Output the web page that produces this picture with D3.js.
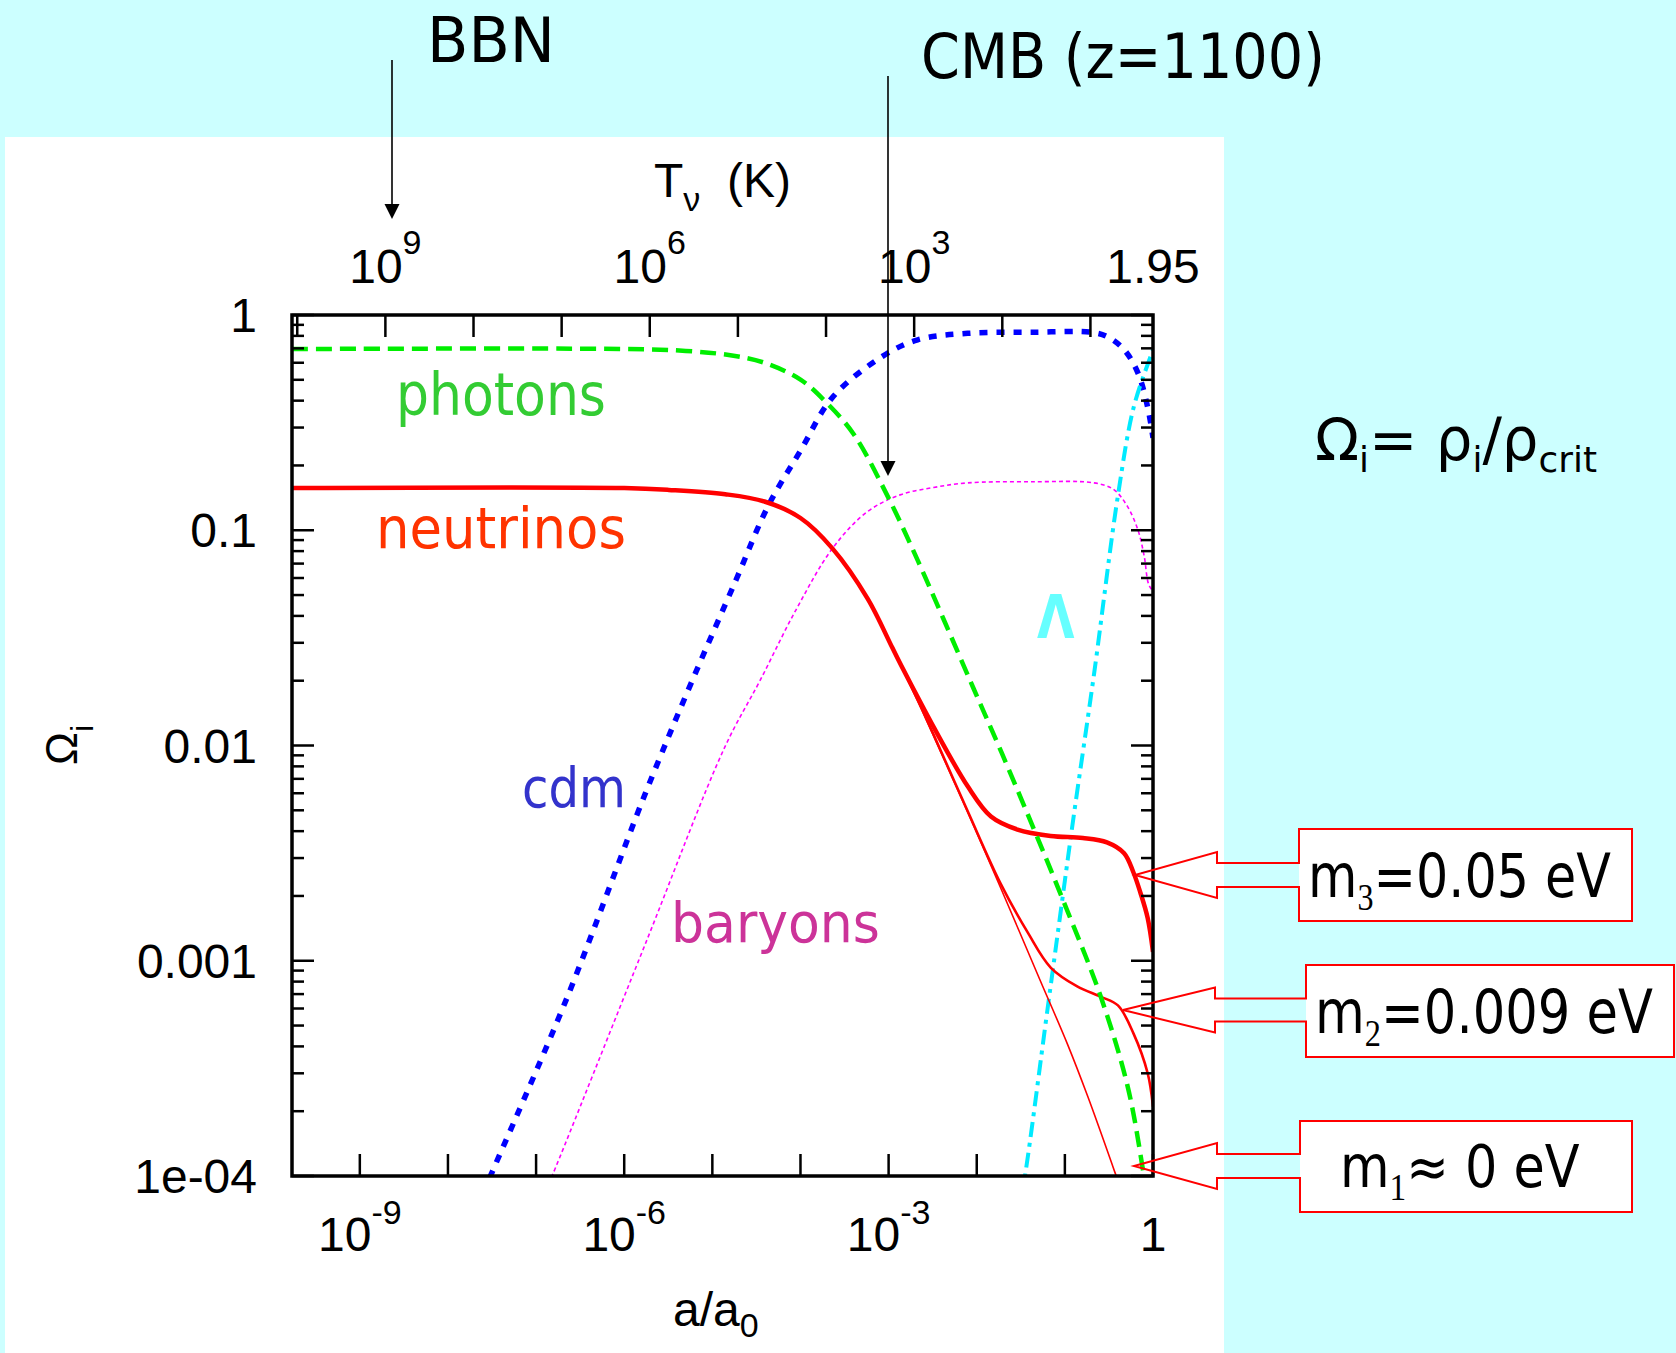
<!DOCTYPE html>
<html><head><meta charset="utf-8">
<script src="https://cdn.jsdelivr.net/npm/d3@7"></script>
<style>
html,body{margin:0;padding:0;background:#ccffff;}
svg{display:block;}
</style></head>
<body>
<svg id="chart" width="1676" height="1353"></svg>
<script>
// ---------------- data ----------------
const xDomain = [1.7e-10, 1];              // a/a0
const yDomain = [1e-4, 1];                 // Omega_i
const yTickValues = [1, 0.1, 0.01, 0.001, 1e-4];
const yTickLabels = ["1", "0.1", "0.01", "0.001", "1e-04"];
const xDecadeExponents = [-9, -8, -7, -6, -5, -4, -3, -2, -1, 0];
const xLabelExponents = [-9, -6, -3, 0];
const tNuToday = 1.95;                     // K at a/a0 = 1
const tNuTickValues = [1e10, 1e9, 1e8, 1e7, 1e6, 1e5, 1e4, 1e3, 1e2, 1e1];
const tNuLabelValues = [1e9, 1e6, 1e3, 1.95];
const tNuLabelExponents = [9, 6, 3, null];

const photonsA = [1.7e-10, 1e-6, 5e-6, 1.6e-5, 3.9e-5, 1e-4, 1.9e-4, 4e-4, 1e-3, 2.14e-3, 4.17e-3, 9.1e-3, 0.019, 0.0447, 0.098, 0.257, 0.513, 0.76, 1];
const photonsOmega = [0.695, 0.695, 0.681, 0.650, 0.600, 0.501, 0.398, 0.280, 0.141, 0.0724, 0.0389, 0.0186, 0.00933, 0.00407, 0.00186, 0.000676, 0.000263, 0.00011, 0.00005];

const nuM3A = [1.7e-10, 1e-6, 3.2e-6, 1.4e-5, 3.9e-5, 1e-4, 2.3e-4, 5.8e-4, 1.1e-3, 1.4e-3, 2.1e-3, 3.2e-3, 7.9e-3, 0.0145, 0.029, 0.069, 0.16, 0.30, 0.47, 0.60, 0.72, 0.87, 1];
const nuM3Omega = [0.157, 0.157, 0.154, 0.147, 0.136, 0.114, 0.0824, 0.048, 0.0285, 0.0234, 0.0170, 0.0123, 0.00646, 0.00468, 0.00407, 0.0038, 0.00372, 0.00355, 0.00316, 0.00257, 0.00207, 0.00158, 0.0011];

const nuM2A = [1.7e-10, 1e-6, 3.2e-6, 1.4e-5, 3.9e-5, 1e-4, 2.3e-4, 5.8e-4, 1.1e-3, 1.4e-3, 2.1e-3, 3.2e-3, 7.9e-3, 0.0186, 0.038, 0.069, 0.138, 0.257, 0.40, 0.60, 0.87, 1];
const nuM2Omega = [0.157, 0.157, 0.154, 0.147, 0.136, 0.114, 0.0824, 0.048, 0.0285, 0.0234, 0.0165, 0.01135, 0.00495, 0.00229, 0.00135, 0.00093, 0.00076, 0.00068, 0.00062, 0.00046, 0.0003, 0.00021];

const nuM1A = [1.7e-10, 1e-6, 3.2e-6, 1.4e-5, 3.9e-5, 1e-4, 2.3e-4, 5.8e-4, 1.1e-3, 1.4e-3, 2.1e-3, 3.2e-3, 7.9e-3, 0.0186, 0.0525, 0.107, 0.182, 0.347, 0.447];
const nuM1Omega = [0.157, 0.157, 0.154, 0.147, 0.136, 0.114, 0.0824, 0.048, 0.0285, 0.0234, 0.0164, 0.0112, 0.0049, 0.00219, 0.00081, 0.00041, 0.000234, 0.000112, 0.000083];

const cdmA = [2.5e-8, 3.1e-8, 2.2e-7, 1.74e-6, 5.75e-6, 1.86e-5, 4.27e-5, 1e-4, 2.34e-4, 8.7e-4, 2.14e-3, 7.9e-3, 0.0447, 0.195, 0.302, 0.468, 0.676, 0.871, 1];
const cdmOmega = [8.3e-5, 1.02e-4, 6.6e-4, 6.0e-3, 0.0195, 0.0589, 0.129, 0.234, 0.417, 0.646, 0.767, 0.822, 0.832, 0.832, 0.794, 0.692, 0.537, 0.372, 0.269];

const baryonsA = [1.2e-7, 1.55e-7, 1.74e-6, 1.38e-5, 3.47e-5, 8.9e-5, 2.34e-4, 5.75e-4, 1.35e-3, 3.24e-3, 7.9e-3, 0.0437, 0.214, 0.355, 0.513, 0.676, 0.794, 0.891, 1];
const baryonsOmega = [8e-5, 1.02e-4, 1.2e-3, 9.8e-3, 0.02, 0.0427, 0.083, 0.122, 0.146, 0.158, 0.166, 0.168, 0.166, 0.155, 0.129, 0.100, 0.0759, 0.0562, 0.052];

const lambdaA = [0.0316, 0.0355, 0.063, 0.0891, 0.126, 0.214, 0.398, 0.603, 0.944, 1];
const lambdaOmega = [7.9e-5, 1.02e-4, 5.8e-4, 1.66e-3, 4.7e-3, 0.0214, 0.143, 0.372, 0.646, 0.69];

// ---------------- layout ----------------
const svg = d3.select("#chart");
const M = {left: 292, right: 1153, top: 315, bottom: 1176};
const x = d3.scaleLog().domain(xDomain).range([M.left, M.right]);
const y = d3.scaleLog().domain(yDomain).range([M.bottom, M.top]);
const tickFont = "'Liberation Sans', Arial, sans-serif";
const comicFont = "'DejaVu Sans', sans-serif";

svg.append("rect").attr("width", 1676).attr("height", 1353).attr("fill", "#ccffff");
svg.append("rect").attr("x", 5).attr("y", 137).attr("width", 1219).attr("height", 1216).attr("fill", "#ffffff");

svg.append("defs").append("clipPath").attr("id", "plotclip")
  .append("rect").attr("x", M.left).attr("y", M.top)
  .attr("width", M.right - M.left).attr("height", M.bottom - M.top);

// ---------------- curves ----------------
const line = d3.line().x(d => x(d[0])).y(d => y(d[1])).curve(d3.curveCatmullRom.alpha(0.5));
const zip = (a, o) => a.map((v, i) => [v, o[i]]);
const curves = svg.append("g").attr("clip-path", "url(#plotclip)");

const series = [
  {a: baryonsA, o: baryonsOmega, color: "#ff00ff", w: 1.6, dash: "4,3"},
  {a: cdmA, o: cdmOmega, color: "#0000ff", w: 5.5, dash: "8,9"},
  {a: lambdaA, o: lambdaOmega, color: "#00eaff", w: 4, dash: "15,6,4,6"},
  {a: nuM1A, o: nuM1Omega, color: "#ff0000", w: 1.6, dash: null},
  {a: nuM2A, o: nuM2Omega, color: "#ff0000", w: 2.6, dash: null},
  {a: nuM3A, o: nuM3Omega, color: "#ff0000", w: 4.5, dash: null},
  {a: photonsA, o: photonsOmega, color: "#00ee00", w: 4.5, dash: "16,8"}
];
series.forEach(s => {
  curves.append("path").datum(zip(s.a, s.o)).attr("d", line)
    .attr("fill", "none").attr("stroke", s.color).attr("stroke-width", s.w)
    .attr("stroke-dasharray", s.dash).attr("stroke-linejoin", "round");
});

// ---------------- axes ----------------
const axes = svg.append("g").attr("stroke", "#000");
const isDecade = v => Math.abs(Math.log10(v) - Math.round(Math.log10(v))) < 1e-9;
y.ticks().forEach(v => {
  const len = isDecade(v) ? 22 : 12;
  const yy = y(v);
  axes.append("line").attr("x1", M.left).attr("x2", M.left + len).attr("y1", yy).attr("y2", yy).attr("stroke-width", 2.5);
  axes.append("line").attr("x1", M.right).attr("x2", M.right - len).attr("y1", yy).attr("y2", yy).attr("stroke-width", 2.5);
});
xDecadeExponents.forEach(e => {
  const xx = x(Math.pow(10, e));
  axes.append("line").attr("x1", xx).attr("x2", xx).attr("y1", M.bottom).attr("y2", M.bottom - 22).attr("stroke-width", 2.5);
});
tNuTickValues.forEach(T => {
  const xx = x(tNuToday / T);
  axes.append("line").attr("x1", xx).attr("x2", xx).attr("y1", M.top).attr("y2", M.top + 22).attr("stroke-width", 2.5);
});
axes.append("rect").attr("x", M.left).attr("y", M.top).attr("width", M.right - M.left)
  .attr("height", M.bottom - M.top).attr("fill", "none").attr("stroke-width", 3.5);

yTickValues.forEach((v, i) => {
  svg.append("text").attr("x", 257).attr("y", y(v) + 17).attr("text-anchor", "end")
    .attr("font-family", tickFont).attr("font-size", 48).text(yTickLabels[i]);
});
xLabelExponents.forEach(e => {
  const t = svg.append("text").attr("x", x(Math.pow(10, e))).attr("y", 1251)
    .attr("text-anchor", "middle").attr("font-family", tickFont).attr("font-size", 48);
  if (e === 0) { t.text("1"); }
  else {
    t.append("tspan").text("10");
    t.append("tspan").attr("font-size", 34).attr("dy", -27).text(String(e));
  }
});
tNuLabelValues.forEach((T, i) => {
  const t = svg.append("text").attr("x", x(tNuToday / T)).attr("y", 283)
    .attr("text-anchor", "middle").attr("font-family", tickFont).attr("font-size", 48);
  if (tNuLabelExponents[i] === null) { t.text(String(T)); }
  else {
    t.append("tspan").text("10");
    t.append("tspan").attr("font-size", 34).attr("dy", -29).text(String(tNuLabelExponents[i]));
  }
});
const tl = svg.append("text").attr("x", 654).attr("y", 197).attr("font-family", tickFont).attr("font-size", 48);
tl.append("tspan").text("T");
tl.append("tspan").attr("font-size", 34).attr("dy", 14).text("ν");
tl.append("tspan").attr("x", 727).attr("dy", -14).text("(K)");

const xl = svg.append("text").attr("x", 673).attr("y", 1326).attr("font-family", tickFont).attr("font-size", 48);
xl.append("tspan").text("a/a");
xl.append("tspan").attr("font-size", 34).attr("dy", 11).text("0");

const yl = svg.append("text").attr("transform", "translate(77,745) rotate(-90)")
  .attr("text-anchor", "middle").attr("font-family", tickFont).attr("font-size", 44);
yl.append("tspan").text("Ω");
yl.append("tspan").attr("font-size", 32).attr("dy", 16).text("i");

// ---------------- annotations ----------------
function fitText(build, x0, x1, baseline, attrs) {
  const g = svg.append("g");
  const t = g.append("text");
  Object.entries(attrs).forEach(([k, v]) => t.attr(k, v));
  build(t);
  const bb = t.node().getBBox();
  const s = (x1 - x0) / bb.width;
  g.attr("transform", `translate(${x0 - bb.x * s},${baseline}) scale(${s},1)`);
  return g;
}
const simple = str => t => t.text(str);

fitText(simple("photons"), 396, 606, 415, {"font-family": comicFont, "font-size": 58, fill: "#33cc33"});
fitText(simple("neutrinos"), 376, 626, 548, {"font-family": comicFont, "font-size": 57, fill: "#ff3300"});
fitText(simple("cdm"), 522, 626, 807, {"font-family": comicFont, "font-size": 55, fill: "#3333cc"});
fitText(simple("baryons"), 671, 880, 942, {"font-family": comicFont, "font-size": 56, fill: "#cc3399"});
fitText(simple("Λ"), 1037, 1075, 638, {"font-family": comicFont, "font-size": 60, "font-weight": "bold", fill: "#66ffff"});
fitText(simple("BBN"), 427, 555, 62, {"font-family": comicFont, "font-size": 63, fill: "#000"});
fitText(simple("CMB (z=1100)"), 921, 1325, 78, {"font-family": comicFont, "font-size": 62, fill: "#000"});

fitText(t => {
  t.append("tspan").text("Ω");
  t.append("tspan").attr("font-size", 36).attr("dy", 12).text("i");
  t.append("tspan").attr("dy", -12).text("= ρ");
  t.append("tspan").attr("font-size", 36).attr("dy", 12).text("i");
  t.append("tspan").attr("dy", -12).text("/ρ");
  t.append("tspan").attr("font-size", 36).attr("dy", 12).text("crit");
}, 1315, 1597, 460, {"font-family": comicFont, "font-size": 58, fill: "#000"});

function epochArrow(xx, y0, tip) {
  svg.append("line").attr("x1", xx).attr("x2", xx).attr("y1", y0).attr("y2", tip - 10)
    .attr("stroke", "#000").attr("stroke-width", 1.6);
  svg.append("path").attr("d", `M${xx - 7.5},${tip - 15}L${xx + 7.5},${tip - 15}L${xx},${tip}Z`).attr("fill", "#000");
}
epochArrow(392, 60, 219);
epochArrow(888, 76, 476);

function callout(bx0, bx1, by0, by1, tipX, tipY, headX, headH, bodyH) {
  svg.append("rect").attr("x", bx0).attr("y", by0).attr("width", bx1 - bx0).attr("height", by1 - by0).attr("fill", "#fff");
  const p = `M${bx0},${by0}L${bx1},${by0}L${bx1},${by1}L${bx0},${by1}L${bx0},${tipY + bodyH}` +
            `L${headX},${tipY + bodyH}L${headX},${tipY + headH}L${tipX},${tipY}L${headX},${tipY - headH}` +
            `L${headX},${tipY - bodyH}L${bx0},${tipY - bodyH}Z`;
  svg.append("path").attr("d", p).attr("fill", "none").attr("stroke", "#ff0000").attr("stroke-width", 2);
}
callout(1299, 1632, 829, 921, 1135, 875, 1217, 23, 12);
callout(1306, 1674, 965, 1057, 1123, 1010, 1215, 22.5, 11.5);
callout(1300, 1632, 1121, 1212, 1134, 1166, 1217, 23, 12);

function massLabel(sub, rest) {
  return t => {
    t.append("tspan").text("m");
    t.append("tspan").attr("font-family", "'Liberation Serif', serif").attr("font-size", 38).attr("dy", 13).text(sub);
    t.append("tspan").attr("dy", -13).text(rest);
  };
}
fitText(massLabel("3", "=0.05 eV"), 1308, 1611, 897, {"font-family": comicFont, "font-size": 60, fill: "#000"});
fitText(massLabel("2", "=0.009 eV"), 1315, 1653, 1033, {"font-family": comicFont, "font-size": 60, fill: "#000"});
fitText(massLabel("1", "≈ 0 eV"), 1340, 1580, 1187, {"font-family": comicFont, "font-size": 58, fill: "#000"});
</script>
</body></html>
